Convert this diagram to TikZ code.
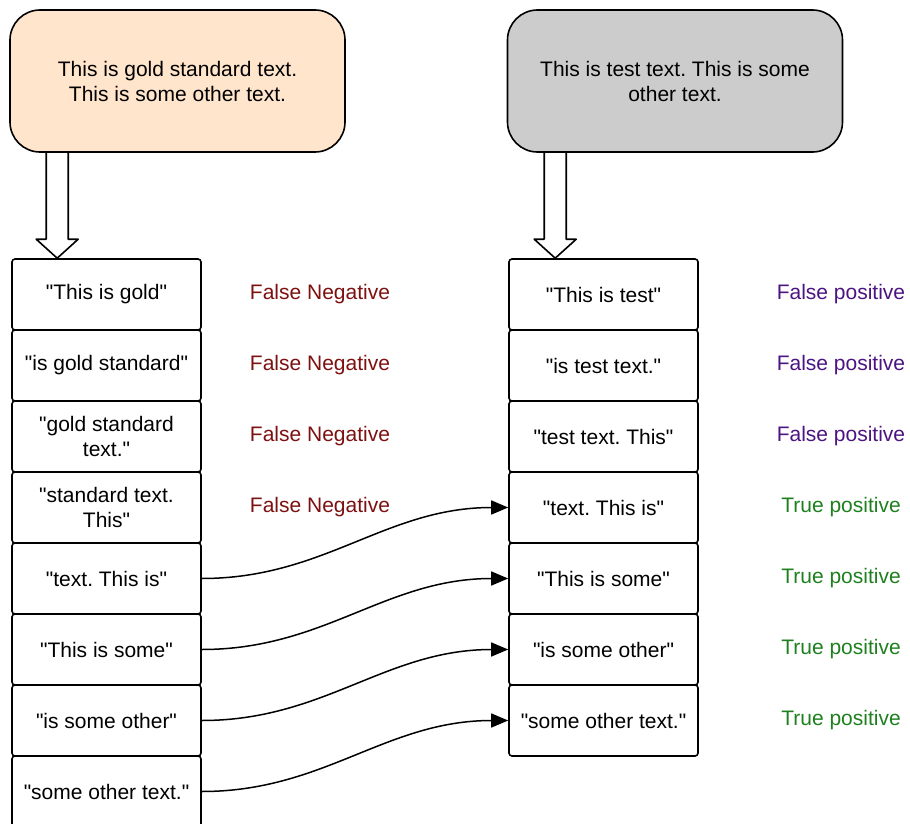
\documentclass[tikz,border=0pt]{standalone}
\usepackage{fontspec}
\setmainfont{Liberation Sans}
\usepackage{tikz}
\usetikzlibrary{positioning, arrows.meta, calc}
\definecolor{goldFill}{RGB}{255,229,204}
\definecolor{testFill}{RGB}{204,204,204}
\definecolor{fnRed}{RGB}{125,16,16}
\definecolor{fpPurple}{RGB}{75,20,130}
\definecolor{tpGreen}{RGB}{30,128,30}
\newcommand{\gram}[1]{\textquotedbl#1\textquotedbl}
\frenchspacing
\tikzstyle{topBox}=[draw, rounded corners=30pt, line width=1.6pt, minimum width=335pt, minimum height=142pt, align=center]
\tikzstyle{gramBox}=[draw, rounded corners=3pt, line width=1.6pt, minimum width=189pt, minimum height=71pt, align=center, inner sep=2pt]
\tikzstyle{matchArrow}=[-{Triangle[length=17pt,width=14pt]}, line width=1.5pt]
\tikzstyle{hollowArrow}=[draw, line width=1.6pt, line join=round]

\begin{document}
\begin{tikzpicture}[x=1pt, y=-1pt, font=\fontsize{21}{25}\selectfont]

    \useasboundingbox (0,0) rectangle (910,824);

    \node[topBox, fill=goldFill] (gold) at (177.5,81) {This is gold standard text.\\This is some other text.};
    \node[topBox, fill=testFill] (test) at (675,81) {This is test text. This is some\\other text.};

    % gold n-grams
    \node[gramBox] (g1) at (106.5,294.5) {\gram{This is gold}};
    \node[gramBox] (g2) at (106.5,365.5) {\gram{is gold standard}};
    \node[gramBox] (g3) at (106.5,436.5) {\textquotedbl gold standard\\text.\textquotedbl};
    \node[gramBox] (g4) at (106.5,507.5) {\textquotedbl standard text.\\This\textquotedbl};
    \node[gramBox] (g5) at (106.5,578.5) {\gram{text. This is}};
    \node[gramBox] (g6) at (106.5,649.5) {\gram{This is some}};
    \node[gramBox] (g7) at (106.5,720.5) {\gram{is some other}};
    \node[gramBox] (g8) at (106.5,791.5) {\gram{some other text.}};

    % test n-grams
    \node[gramBox] (t1) at (603.5,294.5) {\gram{This is test}};
    \node[gramBox] (t2) at (603.5,365.5) {\gram{is test text.}};
    \node[gramBox] (t3) at (603.5,436.5) {\gram{test text. This}};
    \node[gramBox] (t4) at (603.5,507.5) {\gram{text. This is}};
    \node[gramBox] (t5) at (603.5,578.5) {\gram{This is some}};
    \node[gramBox] (t6) at (603.5,649.5) {\gram{is some other}};
    \node[gramBox] (t7) at (603.5,720.5) {\gram{some other text.}};

    \node[text=fnRed] (n1) at (320,294.5) {False Negative};
    \node[text=fnRed] (n2) at (320,365.5) {False Negative};
    \node[text=fnRed] (n3) at (320,436.5) {False Negative};
    \node[text=fnRed] (n4) at (320,507.5) {False Negative};
    \node[text=fpPurple] (p1) at (841,294.5) {False positive};
    \node[text=fpPurple] (p2) at (841,365.5) {False positive};
    \node[text=fpPurple] (p3) at (841,436.5) {False positive};
    \node[text=tpGreen] (p4) at (841,507.5) {True positive};
    \node[text=tpGreen] (p5) at (841,578.5) {True positive};
    \node[text=tpGreen] (p6) at (841,649.5) {True positive};
    \node[text=tpGreen] (p7) at (841,720.5) {True positive};

    \coordinate (ga) at ([xshift=46pt]g1.north west);
    \coordinate (ta) at ([xshift=47pt]t1.north west);
    \draw[hollowArrow] ($(ga |- gold.south)+(-11,0)$) -- ($(ga)+(-11,-19)$) -- ($(ga)+(-21,-19)$) -- (ga) -- ($(ga)+(21,-19)$) -- ($(ga)+(11,-19)$) -- ($(ga |- gold.south)+(11,0)$);
    \draw[hollowArrow] ($(ta |- test.south)+(-11,0)$) -- ($(ta)+(-11,-19)$) -- ($(ta)+(-21,-19)$) -- (ta) -- ($(ta)+(21,-19)$) -- ($(ta)+(11,-19)$) -- ($(ta |- test.south)+(11,0)$);

    \draw[matchArrow] (g5.east) to[out=0, in=180] (t4.west);
    \draw[matchArrow] (g6.east) to[out=0, in=180] (t5.west);
    \draw[matchArrow] (g7.east) to[out=0, in=180] (t6.west);
    \draw[matchArrow] (g8.east) to[out=0, in=180] (t7.west);

\end{tikzpicture}
\end{document}
